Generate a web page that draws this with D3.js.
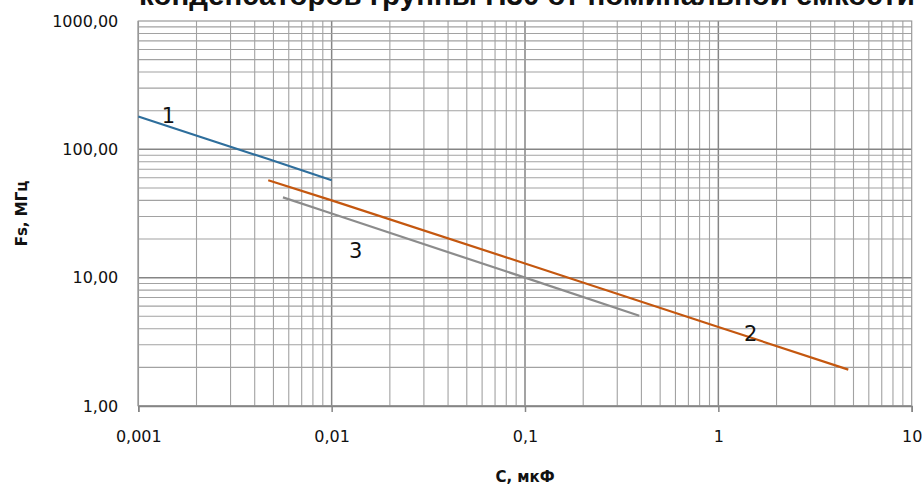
<!DOCTYPE html>
<html>
<head>
<meta charset="utf-8">
<script src="https://cdn.jsdelivr.net/npm/d3@7"></script>
<style>
  body { margin: 0; background: #fff; }
  svg { display: block; }
</style>
</head>
<body>
<div id="chart"></div>
<script>
// размеры
var svg_w = 924;
var svg_h = 489;
var margin = {top: 21, right: 12.3, bottom: 83, left: 138.3};

// данные (С, мкФ -> Fs, МГц)
var cap1 = [0.001, 0.0022, 0.0047, 0.01];
var fs1  = [180, 122, 84, 57.5];

var cap2 = [0.0047, 0.01, 0.1, 1, 4.7];
var fs2  = [57.4, 40, 12.9, 4.13, 1.92];

var cap3 = [0.0056, 0.01, 0.1, 0.39];
var fs3  = [42.2, 31.6, 10, 5.05];

var curveNames = ["1", "2", "3"];
var curveColors = ["#2e6e9c", "#c4570f", "#8c8c8c"];

var xTicks = [0.001, 0.01, 0.1, 1, 10];
var yTicks = [1, 10, 100, 1000];

var titleText = "конденсаторов группы Н30 от номинальной емкости";
var xTitle = "С, мкФ";
var yTitle = "Fs, МГц";

var ru = d3.formatLocale({decimal: ",", thousands: " ", grouping: [3], currency: ["", ""]});

var svg = d3.select("#chart").append("svg")
  .attr("width", svg_w)
  .attr("height", svg_h);

var x = d3.scaleLog().domain([0.001, 10]).range([margin.left, svg_w - margin.right]);
var y = d3.scaleLog().domain([1, 1000]).range([svg_h - margin.bottom, margin.top]);

// сетка
var xGrid = [], yGrid = [];
for (var p = -3; p < 1; p++) for (var k = 1; k < 10; k++) xGrid.push(k * Math.pow(10, p));
for (var p = 0; p < 3; p++) for (var k = 1; k < 10; k++) yGrid.push(k * Math.pow(10, p));

svg.append("g").selectAll("line")
  .data(xGrid)
  .enter().append("line")
  .attr("x1", function(d) { return x(d); })
  .attr("x2", function(d) { return x(d); })
  .attr("y1", y(1000)).attr("y2", y(1))
  .attr("stroke", function(d, i) { return i % 9 == 0 ? "#858585" : "#a2a2a2"; })
  .attr("stroke-width", function(d, i) { return i % 9 == 0 ? 1.5 : 1.1; });

svg.append("g").selectAll("line")
  .data(yGrid)
  .enter().append("line")
  .attr("y1", function(d) { return y(d); })
  .attr("y2", function(d) { return y(d); })
  .attr("x1", x(0.001)).attr("x2", x(10))
  .attr("stroke", function(d, i) { return i % 9 == 0 ? "#858585" : "#a2a2a2"; })
  .attr("stroke-width", function(d, i) { return i % 9 == 0 ? 1.5 : 1.1; });

// рамка
svg.append("rect")
  .attr("x", x(0.001)).attr("y", y(1000))
  .attr("width", x(10) - x(0.001)).attr("height", y(1) - y(1000))
  .attr("fill", "none").attr("stroke", "#9a9a9a").attr("stroke-width", 1.2);

// оси
var xAxis = d3.axisBottom(x)
  .tickValues(xTicks)
  .tickSize(6)
  .tickFormat(ru.format("~g"));
var gx = svg.append("g")
  .attr("transform", "translate(0," + y(1) + ")")
  .call(xAxis);
gx.select(".domain").attr("stroke", "#858585").attr("stroke-width", 1.5);
gx.selectAll(".tick line").attr("stroke", "#858585").attr("stroke-width", 1.5);
gx.selectAll(".tick text")
  .attr("y", 25)
  .attr("fill", "#111")
  .style("font-family", "DejaVu Sans")
  .style("font-size", "16px");

var yAxis = d3.axisLeft(y)
  .tickValues(yTicks)
  .tickSize(0)
  .tickPadding(20)
  .tickFormat(ru.format(".2f"));
var gy = svg.append("g")
  .attr("transform", "translate(" + x(0.001) + ",0)")
  .call(yAxis);
gy.select(".domain").remove();
gy.selectAll(".tick text")
  .attr("fill", "#111")
  .style("font-family", "DejaVu Sans")
  .style("font-size", "16px");

// линии
var line = d3.line()
  .x(function(d) { return x(d[0]); })
  .y(function(d) { return y(d[1]); });

var series = [d3.zip(cap1, fs1), d3.zip(cap2, fs2), d3.zip(cap3, fs3)];

svg.append("g").selectAll("path")
  .data(series)
  .enter().append("path")
  .attr("d", line)
  .attr("fill", "none")
  .attr("stroke", function(d, i) { return curveColors[i]; })
  .attr("stroke-width", 2.2);

// номера кривых
var labelPos = [[0.00143, 184], [1.47, 3.7], [0.0133, 16.3]];
svg.append("g").selectAll("text")
  .data(curveNames)
  .enter().append("text")
  .attr("x", function(d, i) { return x(labelPos[i][0]); })
  .attr("y", function(d, i) { return y(labelPos[i][1]); })
  .attr("text-anchor", "middle")
  .attr("dy", "0.36em")
  .style("font-family", "DejaVu Sans")
  .style("font-size", "21px")
  .attr("fill", "#111")
  .text(function(d) { return d; });

// заголовок (верхняя строка за краем, как в оригинале)
svg.append("text")
  .attr("x", 527)
  .attr("y", 5)
  .attr("text-anchor", "middle")
  .style("font-family", "Liberation Sans")
  .style("font-weight", "bold")
  .style("font-size", "29.5px")
  .attr("fill", "#111")
  .text(titleText);

svg.append("text")
  .attr("x", (x(0.001) + x(10)) / 2)
  .attr("y", 482)
  .attr("text-anchor", "middle")
  .style("font-family", "DejaVu Sans")
  .style("font-weight", "bold")
  .style("font-size", "15px")
  .attr("fill", "#111")
  .text(xTitle);

svg.append("text")
  .attr("transform", "translate(27," + ((y(1) + y(1000)) / 2) + ") rotate(-90)")
  .attr("text-anchor", "middle")
  .style("font-family", "DejaVu Sans")
  .style("font-weight", "bold")
  .style("font-size", "15px")
  .attr("fill", "#111")
  .text(yTitle);
</script>
</body>
</html>
